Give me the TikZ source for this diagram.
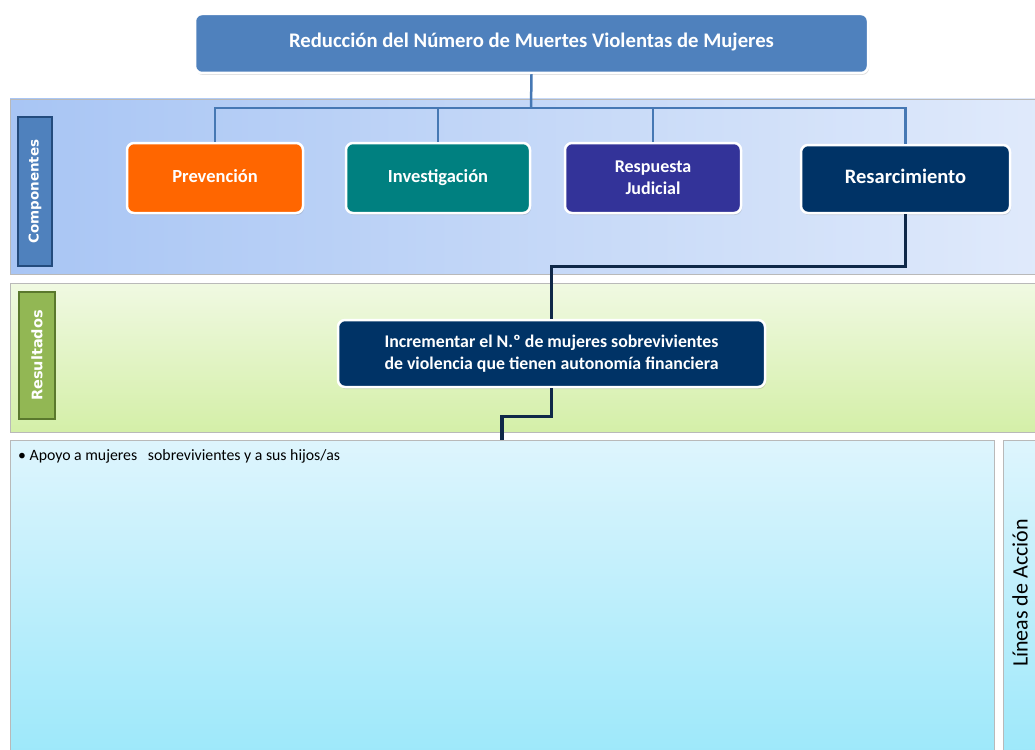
\documentclass[tikz,border=0pt]{standalone}
\usepackage{fontspec}
\setmainfont{Carlito}
\newfontfamily\labfont{DejaVu Sans}
\usetikzlibrary{shadows}
\definecolor{topblue}{RGB}{79,129,189}
\definecolor{busblue}{RGB}{70,120,180}
\definecolor{cband}{RGB}{168,197,244}
\definecolor{cbandr}{RGB}{224,234,251}
\definecolor{gbandt}{RGB}{240,249,226}
\definecolor{gbandb}{RGB}{212,239,168}
\definecolor{cyt}{RGB}{222,245,253}
\definecolor{cyb}{RGB}{156,232,250}
\definecolor{orangec}{RGB}{255,102,0}
\definecolor{tealc}{RGB}{0,128,128}
\definecolor{purplec}{RGB}{51,51,153}
\definecolor{navyc}{RGB}{0,51,102}
\definecolor{navyline}{RGB}{15,40,72}
\definecolor{greenlab}{RGB}{146,183,84}
\definecolor{greenlabd}{RGB}{90,120,45}
\definecolor{bluelabd}{RGB}{35,75,125}
\begin{document}
\begin{tikzpicture}[x=1pt,y=-1pt,
  box/.style={draw=white, line width=2.5pt, rounded corners=7pt, text=white,
    font=\bfseries\fontsize{18.5}{22}\selectfont, align=center, inner sep=0pt,
    drop shadow={opacity=0.25, shadow xshift=1pt, shadow yshift=-2pt}},
  single/.style={text height=12pt, text depth=4pt},
  singlebig/.style={text height=13.5pt, text depth=4.5pt},
  band/.style={draw=gray!55, line width=0.8pt},
  lab/.style={line width=1.5pt, inner sep=0pt, minimum width=34pt},
  labtext/.style={rotate=90, text=white, font=\labfont\bfseries\fontsize{13.5}{16}\selectfont},
  conn/.style={draw=busblue, line width=2.5pt},
  conn2/.style={draw=navyline, line width=3.2pt}
]
\path[use as bounding box] (0,0) rectangle (1035,749);
\clip (0,0) rectangle (1035,749);
\fill[white] (0,0) rectangle (1035,749);

% bands
\draw[band, left color=cband, right color=cbandr] (10,99) rectangle (1045,274);
\draw[band, top color=gbandt, bottom color=gbandb] (10,283) rectangle (1045,432);
\node[band, top color=cyt, bottom color=cyb, minimum width=984pt, minimum height=320pt, inner sep=0pt] (act) at (502,600) {};
\node[band, top color=cyt, bottom color=cyb, minimum width=44pt, minimum height=320pt, inner sep=0pt, anchor=north west] (lin) at (1003,440) {};

% side labels
\node[lab, draw=bluelabd, fill=topblue, minimum height=149pt] (clab) at (35,191.5) {};
\node[labtext] at (clab) {Componentes};
\node[lab, draw=greenlabd, fill=greenlab, minimum width=36pt, minimum height=127pt] (rlab) at (37,355.5) {};
\node[labtext, font=\labfont\bfseries\fontsize{14.5}{16}\selectfont] at (rlab) {Resultados};

% boxes
\node[box, singlebig, fill=topblue, minimum width=673pt, minimum height=59pt, font=\bfseries\fontsize{20.7}{24}\selectfont] (top) at (531.5,43.5) {Reducción del Número de Muertes Violentas de Mujeres};
\node[box, single, fill=orangec, minimum width=176pt, minimum height=70pt] (prev) at (215,178) {Prevención};
\node[box, single, fill=tealc, minimum width=184pt, minimum height=70pt] (inv) at (438,178) {Investigación};
\node[box, fill=purplec, minimum width=176pt, minimum height=70pt, font=\bfseries\fontsize{18}{22}\selectfont] (resp) at (653,178) {Respuesta\\Judicial};
\node[box, singlebig, fill=navyc, minimum width=209pt, minimum height=68pt, font=\bfseries\fontsize{20.5}{24}\selectfont] (resar) at (905.5,179) {Resarcimiento};
\node[box, fill=navyc, minimum width=427pt, minimum height=67pt, font=\bfseries\fontsize{17.8}{22}\selectfont] (inc) at (551.5,353.5) {Incrementar el N.º de mujeres sobrevivientes\\de violencia que tienen autonomía financiera};

% connectors
\coordinate (bus) at (531,108);
\draw[conn] (top.south) -- (bus);
\draw[conn] (prev.north) |- (bus) -| (resar.north);
\draw[conn] (inv.north) -- (inv.north |- bus);
\draw[conn] (resp.north) -- (resp.north |- bus);
\draw[conn2] (resar.south) -- ++(0,52) -| (inc.north);
\draw[conn2] (inc.south) -- ++(0,28) -| (act.north);

% texts
\node[anchor=north west, inner sep=0pt, font=\fontsize{15.8}{18}\selectfont] (apoyo) at (18,449) {• Apoyo a mujeres\ \ \ sobrevivientes\ y a sus hijos/as};
\node[rotate=90, inner sep=0pt, font=\fontsize{22}{25}\selectfont] (lintext) at (1020,593) {Líneas de Acción};
\end{tikzpicture}
\end{document}
